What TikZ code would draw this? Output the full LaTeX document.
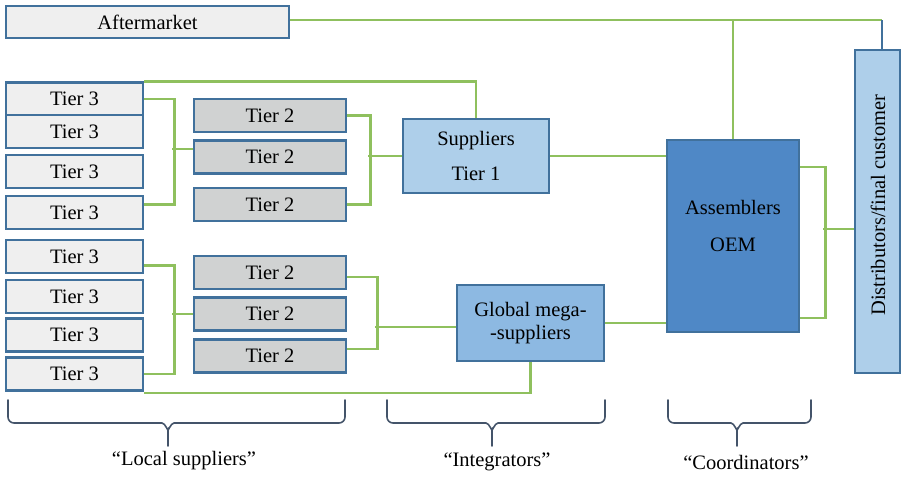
\documentclass[tikz,border=0pt]{standalone}
\usepackage{fontspec}
\setmainfont{Liberation Serif}
\begin{document}
\begin{tikzpicture}[x=1pt,y=-1pt,
  font=\fontsize{20.5}{23}\selectfont,
  bx/.style={draw=boxblue, line width=2.6pt, inner sep=0pt, align=center},
  tthree/.style={bx, fill=tgray, minimum width=137pt, minimum height=33pt},
  ttwo/.style={bx, fill=t2gray, minimum width=152pt, minimum height=33pt},
  link/.style={draw=lgreen, line width=2.6pt},
  brc/.style={draw=brcol, line width=1.6pt, line cap=round}]
\definecolor{boxblue}{HTML}{41719C}
\definecolor{tgray}{HTML}{EFEFEF}
\definecolor{t2gray}{HTML}{D0D2D2}
\definecolor{lblue}{HTML}{AECFEA}
\definecolor{mblue}{HTML}{8DB9E2}
\definecolor{oemblue}{HTML}{4F88C6}
\definecolor{lgreen}{HTML}{8FC05E}
\definecolor{brcol}{HTML}{44546A}
\useasboundingbox (0,0) rectangle (903,477);

% nodes
\node[bx, fill=tgray, minimum width=283pt, minimum height=32pt] (aft) at (147.5,22) {Aftermarket};
\node[tthree] (t3a) at (74.5,99) {Tier 3};
\node[tthree] (t3b) at (74.5,131.5) {Tier 3};
\node[tthree] (t3c) at (74.5,171.5) {Tier 3};
\node[tthree] (t3d) at (74.5,212.5) {Tier 3};
\node[tthree] (t3e) at (74.5,256.5) {Tier 3};
\node[tthree] (t3f) at (74.5,296.5) {Tier 3};
\node[tthree] (t3g) at (74.5,335) {Tier 3};
\node[tthree] (t3h) at (74.5,374) {Tier 3};
\node[ttwo] (t2a) at (270,115.5) {Tier 2};
\node[ttwo] (t2b) at (270,157) {Tier 2};
\node[ttwo] (t2c) at (270,204.5) {Tier 2};
\node[ttwo] (t2d) at (270,272.5) {Tier 2};
\node[ttwo] (t2e) at (270,314) {Tier 2};
\node[ttwo] (t2f) at (270,356) {Tier 2};
\node[bx, fill=lblue, minimum width=146pt, minimum height=74pt] (sup) at (476,156) {Suppliers\\[12pt]Tier 1};
\node[bx, fill=mblue, minimum width=147pt, minimum height=76pt] (glob) at (530.5,323) {Global mega-\\-suppliers};
\node[bx, fill=oemblue, minimum width=132pt, minimum height=192pt] (oem) at (733,236) {};
\node[align=center] (oemtxt) at (733,226) {Assemblers\\[14pt]OEM};
\node[bx, fill=lblue, minimum width=45pt, minimum height=323pt] (dist) at (877.5,211.5) {};
\node[rotate=90] (disttxt) at (878,205) {Distributors/final customer};

% connectors
\coordinate (aftc) at (882,20);
\draw[link] (aft.east |- aftc) -- (aftc);
\draw[draw=boxblue, line width=1.3pt] (aftc) -- (aftc |- dist.north);
\draw[link] (oem.north |- aftc) -- (oem.north);
\draw[link] (t3a.north east) -- (t3a.north east -| sup.north) -- (sup.north);

\draw[link] (t3a.east) -- ++(30,0) |- ([yshift=8]t3d.east);
\draw[link] ([yshift=8]t2b.west) -- ++(-21,0);
\draw[link] (t2a.east) -- ++(23,0) |- (t2c.east);
\draw[link] (sup.west) -- ++(-34,0);
\draw[link] (sup.east) -- (sup.east -| oem.west);
\draw[link] ([yshift=-82]oem.east) -- ++(25,0) |- ([yshift=69]oem.east);
\draw[link] (dist.west |- 0,229) -- ++(-31,0);

\draw[link] ([yshift=-9]t3e.east) -- ++(30,0) |- (t3h.east);
\draw[link] (t2e.west) -- ++(-21,0);
\draw[link] ([yshift=-4.5]t2d.east) -- ++(30,0) |- ([yshift=7]t2f.east);
\draw[link] ([yshift=-4]glob.west) -- ++(-81,0);
\draw[link] (glob.east) -- (glob.east -| oem.west);
\draw[link] ([yshift=-1]t3h.south east) -- ([yshift=-1]t3h.south east -| glob.south) -- (glob.south);

% braces
\foreach \xa/\xm/\xb/\nm in {8/168/345/b1, 387/492/605/b2, 668/737/811/b3}{
  \draw[brc] (\xa,400) -- (\xa,417) to[out=-90,in=180] (\xa+6,423) -- (\xm-6,423)
    to[out=0,in=-90] (\xm,429) -- (\xm,446);
  \draw[brc] (\xb,400) -- (\xb,417) to[out=-90,in=0] (\xb-6,423) -- (\xm+6,423)
    to[out=180,in=-90] (\xm,429);
}
\node (lab1) at (184,461) {“Local suppliers”};
\node (lab2) at (497,462) {“Integrators”};
\node (lab3) at (746,462) {“Coordinators”};
\end{tikzpicture}
\end{document}
